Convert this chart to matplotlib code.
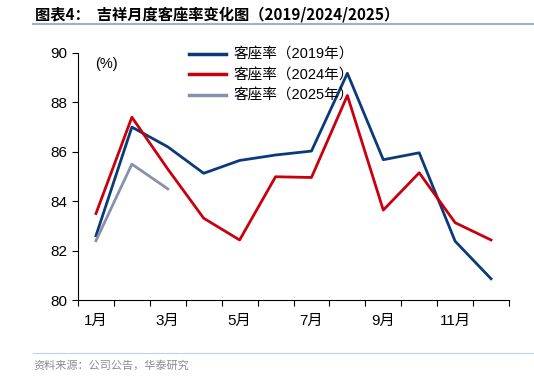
import matplotlib.pyplot as plt
from matplotlib.lines import Line2D

plt.rcParams['font.family'] = ['Liberation Sans', 'Noto Sans CJK SC', 'DejaVu Sans']

# 数据
months = ['1月', '2月', '3月', '4月', '5月', '6月', '7月', '8月', '9月', '10月', '11月', '12月']
load_2019 = [82.6, 87.0, 86.2, 85.13, 85.65, 85.87, 86.03, 89.18, 85.68, 85.96, 82.38, 80.86]
load_2024 = [83.5, 87.4, 85.3, 83.31, 82.43, 84.99, 84.96, 88.28, 83.64, 85.15, 83.13, 82.43]
load_2025 = [82.4, 85.5, 84.5]
legend_labels = ['客座率（2019年）', '客座率（2024年）', '客座率（2025年）']
colors = ['#0b3a78', '#c8000e', '#8791ad']

fig = plt.figure(figsize=(5.34, 3.78), dpi=100)
ax = fig.add_axes([78 / 534, 1 - 300 / 378, (509 - 78) / 534, (300 - 53) / 378])

x = list(range(len(months)))
ax.plot(x, load_2019, color=colors[0], lw=2.0)
ax.plot(x, load_2024, color=colors[1], lw=2.0)
ax.plot(x[:len(load_2025)], load_2025, color=colors[2], lw=2.0)

ax.set_ylim(80, 90)
ax.set_yticks(range(80, 91, 2))
ax.set_xlim(-0.5, len(months) - 0.5)
ax.set_xticks([i - 0.5 for i in range(len(months) + 1)])
ax.set_xticklabels([])
ax.set_xticks(x[::2], minor=True)
ax.set_xticklabels(months[::2], minor=True)
ax.tick_params(axis='x', which='minor', length=0, pad=10, labelsize=11)
ax.tick_params(axis='x', which='major', length=4, direction='out')
ax.tick_params(axis='y', length=4, direction='out', labelsize=11, pad=4)
for s in ['top', 'right']:
    ax.spines[s].set_visible(False)

ax.text(0.04, 0.985, '(%)', transform=ax.transAxes, fontsize=10.5, va='top')

handles = [Line2D([], [], color=c, lw=2.5) for c in colors]
ax.legend(handles, legend_labels, loc='upper left', bbox_to_anchor=(0.245, 1.045),
          frameon=False, fontsize=10.5, handlelength=2.5, labelspacing=0.45,
          handletextpad=0.55, borderaxespad=0)

# 标题和来源
fig.text(35 / 534, 1 - 14 / 378, '图表4：  吉祥月度客座率变化图（2019/2024/2025）',
         fontsize=11, fontweight='bold', va='center', family=['Noto Sans CJK SC', 'DejaVu Sans'])
fig.add_artist(Line2D([33 / 534, 1], [1 - 24 / 378] * 2, color='#9fb3c8', lw=1.5))
fig.add_artist(Line2D([33 / 534, 1], [1 - 353 / 378] * 2, color='#c5d0dc', lw=0.8))
fig.text(33 / 534, 1 - 365 / 378, '资料来源：公司公告，华泰研究', fontsize=8,
         color='#8c8c8c', va='center', family=['Noto Sans CJK SC', 'DejaVu Sans'])

fig.savefig('out.png', dpi=100)
